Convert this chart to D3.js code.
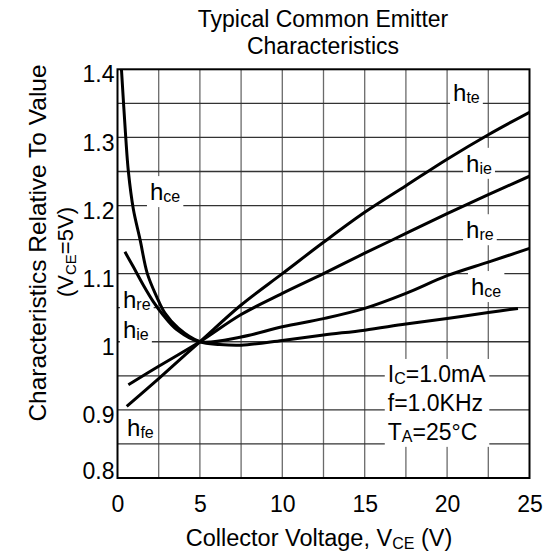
<!DOCTYPE html>
<html>
<head>
<meta charset="utf-8">
<script src="https://cdn.jsdelivr.net/npm/d3@7"></script>
<style>
  body { margin: 0; background: #fff; }
  svg { display: block; font-family: "Liberation Sans", Arial, sans-serif; }
</style>
</head>
<body>
<div id="chart"></div>
<script>
// values (V_CE in volts, characteristic relative to V_CE=5V)
const hfeV   = [0.56, 2.5, 5, 7.5, 10, 12.5, 15, 17.5, 20, 22.5, 25];
const hfeVal = [0.905, 0.946, 1.0, 1.054, 1.100, 1.146, 1.190, 1.229, 1.268, 1.304, 1.337];

const hieV   = [0.66, 2.5, 5, 7.5, 10, 12.5, 15, 17.5, 20, 22.5, 25];
const hieVal = [0.937, 0.964, 1.0, 1.040, 1.071, 1.100, 1.130, 1.159, 1.188, 1.216, 1.243];

const hreV   = [0.45, 0.96, 1.57, 2.17, 2.78, 3.59, 5, 7.5, 10, 12.5, 15, 17.5, 20, 22.5, 25];
const hreVal = [1.132, 1.110, 1.083, 1.059, 1.039, 1.018, 1.0, 1.007, 1.022, 1.034, 1.049, 1.071, 1.097, 1.117, 1.137];

const hceV   = [0.24, 0.5, 0.66, 0.96, 1.37, 1.81, 2.38, 2.88, 3.69, 5, 6.2, 7.5, 10, 12.5, 15, 17.5, 20, 22.5, 24.3];
const hceVal = [1.4, 1.3, 1.25, 1.195, 1.15, 1.1, 1.066, 1.042, 1.02, 1.0, 0.996, 0.995, 1.002, 1.010, 1.017, 1.026, 1.034, 1.043, 1.049];

const xTicks = [0, 5, 10, 15, 20, 25];
const yTicks = [0.8, 0.9, 1, 1.1, 1.2, 1.3, 1.4];
const yTickLabels = ["0.8", "0.9", "1", "1.1", "1.2", "1.3", "1.4"];
const xGrid = [2.5, 5, 7.5, 10, 12.5, 15, 17.5, 20, 22.5];
const yGrid = [0.85, 0.9, 0.95, 1, 1.05, 1.1, 1.15, 1.2, 1.25, 1.3, 1.35];

const width = 558, height = 553;
const margin = { left: 117.5, right: 28.5, top: 69.3, bottom: 75 };

const svg = d3.select("#chart").append("svg")
    .attr("width", width)
    .attr("height", height);

const x = d3.scaleLinear().domain([0, 25]).range([margin.left, width - margin.right]);
const y = d3.scaleLinear().domain([0.8, 1.4]).range([height - margin.bottom, margin.top]);

// grid
svg.append("g").selectAll("line")
    .data(xGrid)
    .join("line")
    .attr("x1", d => x(d)).attr("x2", d => x(d))
    .attr("y1", y(0.8)).attr("y2", y(1.4))
    .attr("stroke", "#6a6a6a")
    .attr("stroke-width", 1.3);

svg.append("g").selectAll("line")
    .data(yGrid)
    .join("line")
    .attr("x1", x(0)).attr("x2", x(25))
    .attr("y1", d => y(d)).attr("y2", d => y(d))
    .attr("stroke", "#333")
    .attr("stroke-width", 1.3);

// label layer: white boxes that break the grid
const labelLayer = svg.append("g");

function subText(g, px, py, main, sub, rest, size, subSize) {
    const t = g.append("text")
        .attr("x", px).attr("y", py)
        .attr("font-size", size)
        .attr("fill", "#000");
    t.append("tspan").text(main);
    t.append("tspan").attr("font-size", subSize).attr("dy", 2).text(sub);
    if (rest) t.append("tspan").attr("dy", -2).text(rest);
    return t;
}

function boxed(px, py, main, sub, rest, size, subSize) {
    const g = labelLayer.append("g");
    const rect = g.append("rect").attr("fill", "#fff");
    const t = subText(g, px, py, main, sub, rest, size, subSize);
    const b = t.node().getBBox();
    rect.attr("x", b.x - 3).attr("y", b.y - 2)
        .attr("width", b.width + 6).attr("height", b.height + 4);
}

// curve labels
boxed(x(20.36), y(1.3539), "h", "te", null, 24, 16);
boxed(x(21.15), y(1.2495), "h", "ie", null, 24, 16);
boxed(x(21.15), y(1.152), "h", "re", null, 24, 16);
boxed(x(21.45), y(1.0686), "h", "ce", null, 24, 16);
boxed(x(1.97), y(1.208), "h", "ce", null, 24, 16);
boxed(x(0.33), y(1.049), "h", "re", null, 24, 16);
boxed(x(0.33), y(1.006), "h", "ie", null, 24, 16);
boxed(x(0.58), y(0.862), "h", "fe", null, 24, 16);

// conditions block
const cond = svg.append("g");
const condRect = cond.append("rect").attr("fill", "#fff");
const condText = cond.append("g");
subText(condText, x(16.4), y(0.941), "I", "C", "=1.0mA", 23, 16);
condText.append("text").attr("x", x(16.4)).attr("y", y(0.898))
    .attr("font-size", 23).text("f=1.0KHz");
subText(condText, x(16.4), y(0.856), "T", "A", "=25°C", 23, 16);
const cb = condText.node().getBBox();
condRect.attr("x", cb.x - 3).attr("y", cb.y - 2).attr("width", cb.width + 6).attr("height", cb.height + 4);

// curves
svg.append("clipPath").attr("id", "plotClip")
    .append("rect")
    .attr("x", x(0)).attr("y", y(1.4))
    .attr("width", x(25) - x(0)).attr("height", y(0.8) - y(1.4));

const line = d3.line()
    .x(d => x(d[0]))
    .y(d => y(d[1]))
    .curve(d3.curveCatmullRom.alpha(0.5));

const series = [
    d3.zip(hfeV, hfeVal),
    d3.zip(hieV, hieVal),
    d3.zip(hreV, hreVal),
    d3.zip(hceV, hceVal)
];

svg.append("g")
    .attr("clip-path", "url(#plotClip)")
    .selectAll("path")
    .data(series)
    .join("path")
    .attr("d", line)
    .attr("fill", "none")
    .attr("stroke", "#000")
    .attr("stroke-width", 3)
    .attr("stroke-linejoin", "round");

// frame
svg.append("rect")
    .attr("x", x(0)).attr("y", y(1.4))
    .attr("width", x(25) - x(0)).attr("height", y(0.8) - y(1.4))
    .attr("fill", "none")
    .attr("stroke", "#000")
    .attr("stroke-width", 2);

// axes
const xAxis = svg.append("g")
    .attr("transform", `translate(0,${y(0.8)})`)
    .call(d3.axisBottom(x).tickValues(xTicks).tickSize(0).tickPadding(18));
xAxis.select(".domain").remove();
xAxis.selectAll("text").attr("font-size", 23).attr("font-family", "Liberation Sans, Arial, sans-serif").attr("fill", "#000");

const yAxis = svg.append("g")
    .attr("transform", `translate(${x(0)},0)`)
    .call(d3.axisLeft(y).tickValues(yTicks).tickSize(0).tickPadding(3)
        .tickFormat((d, i) => yTickLabels[i]));
yAxis.select(".domain").remove();
yAxis.selectAll("text").attr("font-size", 23).attr("font-family", "Liberation Sans, Arial, sans-serif").attr("fill", "#000")
    .attr("dy", d => d === 0.8 ? "0em" : "0.55em");

// titles
svg.append("text")
    .attr("x", 323).attr("y", 27)
    .attr("text-anchor", "middle").attr("font-size", 23)
    .text("Typical Common Emitter");
svg.append("text")
    .attr("x", 323).attr("y", 54)
    .attr("text-anchor", "middle").attr("font-size", 23)
    .text("Characteristics");

const xt = svg.append("text")
    .attr("x", 319).attr("y", 546)
    .attr("text-anchor", "middle").attr("font-size", 23.5);
xt.append("tspan").text("Collector Voltage, V");
xt.append("tspan").attr("font-size", 16).attr("dy", 3).text("CE");
xt.append("tspan").attr("dy", -3).text(" (V)");

svg.append("text")
    .attr("transform", "translate(46,243) rotate(-90)")
    .attr("text-anchor", "middle").attr("font-size", 24.5)
    .text("Characteristics Relative To Value");
const yt2 = svg.append("text")
    .attr("transform", "translate(73,252) rotate(-90)")
    .attr("text-anchor", "middle").attr("font-size", 22);
yt2.append("tspan").text("(V");
yt2.append("tspan").attr("font-size", 15).attr("dy", 3).text("CE");
yt2.append("tspan").attr("dy", -3).text("=5V)");
</script>
</body>
</html>
